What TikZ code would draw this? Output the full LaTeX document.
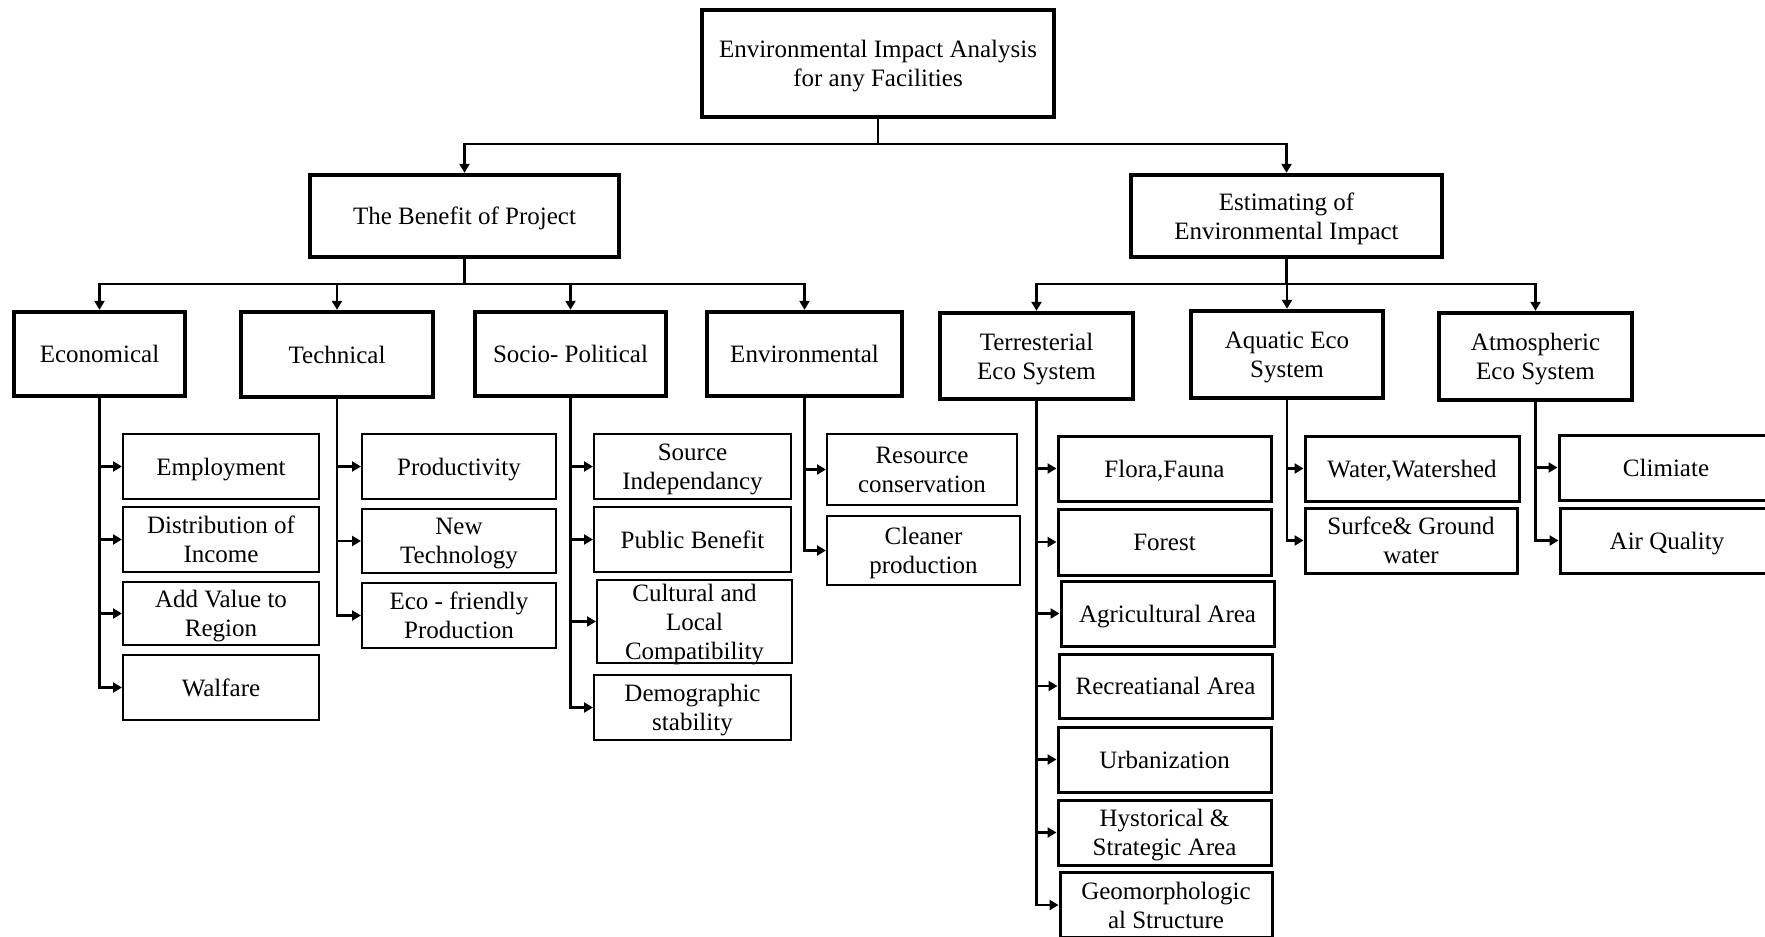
\documentclass[tikz,border=0pt]{standalone}
\usepackage{fontspec}
\setmainfont{Liberation Serif}
\usetikzlibrary{arrows.meta}
\begin{document}
\begin{tikzpicture}[x=0.5pt,y=-0.5pt,
  font=\fontsize{12.5}{14.5}\selectfont,
  every node/.style={text depth=0pt},
  mainbox/.style={draw, line width=2.2pt, align=center, inner sep=0pt},
  subbox/.style={draw, line width=1pt, align=center, inner sep=0pt},
  subboxb/.style={draw, line width=1.5pt, align=center, inner sep=0pt},
  sz/.style 2 args={minimum width=#1pt, minimum height=#2pt},
  conn/.style={line width=1.4pt, -{Triangle[length=4.5pt,width=5pt]}},
]
\useasboundingbox (0,0) rectangle (1765,936);

% level 0
\node[mainbox, sz={176}{53.5}] (root) at (878,63.5) {Environmental Impact Analysis\\for any Facilities};
% level 1
\node[mainbox, sz={154.5}{41}] (benefit) at (464.5,216) {The Benefit of Project};
\node[mainbox, sz={155.5}{41}] (estim) at (1286.5,216) {Estimating of\\Environmental Impact};
% level 2
\node[mainbox, sz={85.5}{42}] (econ) at (99.5,354) {Economical};
\node[mainbox, sz={96}{42.5}] (tech) at (337,354.5) {Technical};
\node[mainbox, sz={95.5}{42}] (socio) at (570.5,354) {Socio- Political};
\node[mainbox, sz={97.5}{42}] (env) at (804.5,354) {Environmental};
\node[mainbox, sz={96.5}{43}] (terr) at (1036.5,356) {Terresterial\\Eco System};
\node[mainbox, sz={96}{43.5}] (aqua) at (1287,354.5) {Aquatic Eco\\System};
\node[mainbox, sz={96.5}{43.5}] (atmo) at (1535.5,356.5) {Atmospheric\\Eco System};

\coordinate (j0) at (878,144);
\coordinate (j1) at (464,284);
\coordinate (j2) at (1286,284);

% level 3 left
\node[subbox, sz={98}{32.5}] (employ) at (221,466.5) {Employment};
\node[subbox, sz={98}{32.5}] (distr) at (221,539.5) {Distribution of\\Income};
\node[subbox, sz={98}{31.5}] (addval) at (221,613.5) {Add Value to\\Region};
\node[subbox, sz={98}{32.5}] (walfare) at (221,687.5) {Walfare};

\node[subbox, sz={97}{32.5}] (prod) at (459,466.5) {Productivity};
\node[subbox, sz={97}{32}] (newtech) at (459,541) {New\\Technology};
\node[subbox, sz={97}{32.5}] (ecofr) at (459,615.5) {Eco - friendly\\Production};

\node[subbox, sz={98.5}{32.5}] (source) at (692.5,466.5) {Source\\Independancy};
\node[subbox, sz={98.5}{32.5}] (public) at (692.5,539.5) {Public Benefit};
\node[subbox, sz={97.5}{41.5}] (cultural) at (694.5,621.5) {Cultural and\\Local\\Compatibility};
\node[subbox, sz={98.5}{32.5}] (demo) at (692.5,707.5) {Demographic\\stability};

\node[subbox, sz={95}{35.5}] (resource) at (922,469.5) {Resource\\conservation};
\node[subbox, sz={96.5}{34.5}] (cleaner) at (923.5,550.5) {Cleaner\\production};

% level 3 right
\node[subboxb, sz={106.5}{32.5}] (flora) at (1164.5,468.5) {Flora,Fauna};
\node[subboxb, sz={106.5}{33}] (forest) at (1164.5,542) {Forest};
\node[subboxb, sz={106.5}{32.5}] (agri) at (1167.5,613.5) {Agricultural Area};
\node[subboxb, sz={106.5}{32}] (recr) at (1165.5,686) {Recreatianal Area};
\node[subboxb, sz={106.5}{32.5}] (urban) at (1164.5,759.5) {Urbanization};
\node[subboxb, sz={106.5}{32.5}] (hist) at (1164.5,832.5) {Hystorical \&\\Strategic Area};
\node[subboxb, sz={106}{32.5}] (geo) at (1166,905) {Geomorphologic\\al Structure};

\node[subboxb, sz={107}{32.5}] (water) at (1412,468.5) {Water,Watershed};
\node[subboxb, sz={106}{32.5}] (surf) at (1411,540.5) {Surfce\& Ground\\water};

\node[subboxb, sz={107}{32.5}] (climiate) at (1666,467.5) {Climiate};
\node[subboxb, sz={107}{32.5}] (airq) at (1667,540.5) {Air Quality};

% connectors level 0 -> 1
\draw[conn] (root) -- (root |- j0) -| (benefit);
\draw[conn] (root) -- (root |- j0) -| (estim);
% level 1 -> 2
\draw[conn] (benefit) -- (benefit |- j1) -| (econ);
\draw[conn] (benefit) -- (benefit |- j1) -| (tech);
\draw[conn] (benefit) -- (benefit |- j1) -| (socio);
\draw[conn] (benefit) -- (benefit |- j1) -| (env);
\draw[conn] (estim) -- (estim |- j2) -| (terr);
\draw[conn] (estim) -- (estim |- j2) -| (aqua);
\draw[conn] (estim) -- (estim |- j2) -| (atmo);
% level 2 -> 3
\foreach \c in {employ,distr,addval,walfare} \draw[conn] (econ) |- (\c);
\foreach \c in {prod,newtech,ecofr} \draw[conn] (tech) |- (\c);
\foreach \c in {source,public,cultural,demo} \draw[conn] (socio) |- (\c);
\foreach \c in {resource,cleaner} \draw[conn] (env) |- (\c);
\foreach \c in {flora,forest,agri,recr,urban,hist,geo} \draw[conn] (terr) |- (\c);
\foreach \c in {water,surf} \draw[conn] (aqua) |- (\c);
\foreach \c in {climiate,airq} \draw[conn] (atmo) |- (\c);
\end{tikzpicture}
\end{document}
